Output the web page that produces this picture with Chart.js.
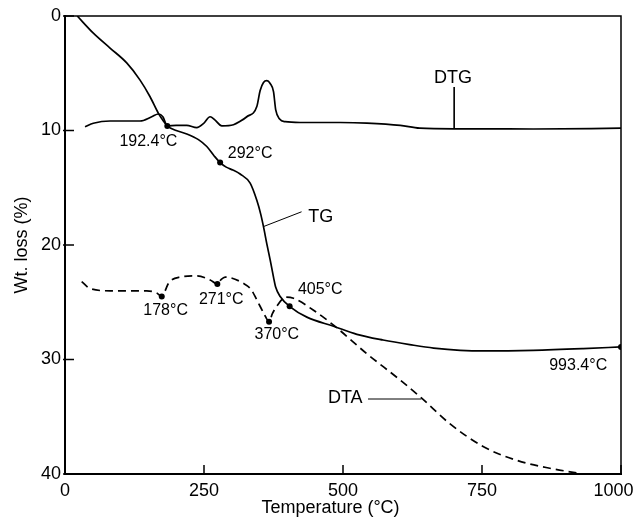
<!DOCTYPE html>
<html>
<head>
<meta charset="utf-8">
<script src="https://cdn.jsdelivr.net/npm/chart.js@4.4.0/dist/chart.umd.min.js"></script>
<style>
  body { margin: 0; background: #fff; }
  canvas { display: block; }
</style>
</head>
<body>
<canvas id="tga" width="637" height="519"></canvas>
<script>
// TG curve - weight loss (%) vs temperature
const tgTemp = [22, 51, 81, 111, 135, 153, 168, 176, 184, 200, 219, 240, 255, 268, 279, 290, 302, 315, 333, 345, 352, 357, 363, 369, 375, 379, 387, 405, 435, 483, 525, 572, 620, 663, 752, 842, 932, 1000];
const tgLoss = [0, 1.5, 2.8, 4.1, 5.6, 7.05, 8.5, 9.1, 9.6, 10.0, 10.3, 10.8, 11.4, 12.2, 12.8, 13.2, 13.45, 13.8, 14.6, 16.1, 17.3, 18.4, 19.9, 21.3, 22.8, 23.7, 24.5, 25.4, 26.3, 27.1, 27.8, 28.3, 28.7, 29.0, 29.25, 29.2, 29.05, 28.9];

// DTG curve
const dtgTemp = [36, 51, 81, 135, 156, 168, 176, 184, 200, 219, 237, 249, 261, 270, 282, 303, 315, 327, 345, 351, 357, 363, 369, 375, 379, 386, 396, 423, 495, 543, 603, 638, 700, 752, 842, 1000];
const dtgVal = [9.67, 9.37, 9.17, 9.17, 8.8, 8.56, 8.8, 9.6, 9.55, 9.55, 9.75, 9.4, 8.8, 9.1, 9.6, 9.5, 9.2, 8.8, 7.9, 6.5, 5.8, 5.65, 5.9, 6.6, 8.2, 9.0, 9.23, 9.3, 9.3, 9.35, 9.55, 9.8, 9.85, 9.85, 9.87, 9.8];

// DTA curve (dashed)
const dtaTemp = [30, 45, 81, 147, 165, 174, 180, 186, 207, 237, 261, 274, 281, 288, 321, 335, 345, 358, 367, 373, 380, 398, 411, 447, 483, 543, 603, 642, 692, 752, 812, 872, 926];
const dtaVal = [23.2, 23.8, 24.0, 24.0, 24.2, 24.5, 24.0, 23.35, 22.8, 22.7, 23.05, 23.4, 23.0, 22.8, 23.35, 23.9, 24.8, 26.0, 26.7, 26.0, 25.4, 24.55, 24.65, 25.7, 27.0, 29.5, 31.8, 33.4, 35.6, 37.6, 38.8, 39.5, 39.95];

// marked points and their labels
const markTemp = [184, 279, 174, 274, 367, 404, 1000];
const markVal = [9.6, 12.8, 24.5, 23.4, 26.7, 25.35, 28.9];
const noteText = ["192.4°C", "292°C", "178°C", "271°C", "370°C", "405°C", "993.4°C", "DTG", "TG", "DTA"];
const noteX = [150, 333, 181, 281, 381, 459, 923, 698, 460, 504];
const noteY = [10.98, 12.05, 25.74, 24.74, 27.86, 23.93, 30.57, 5.41, 17.55, 33.36];
const noteSize = [16, 16, 16, 16, 16, 16, 16, 18, 18, 18];

// leader lines for curve names
const dtgLeadX = [700, 700], dtgLeadY = [6.2, 9.85];
const tgLeadX = [356.5, 425.5], tgLeadY = [18.4, 17.1];
const dtaLeadX = [545, 641], dtaLeadY = [33.45, 33.45];

const xTicks = [0, 250, 500, 750, 1000];
const yTicks = [0, 10, 20, 30, 40];

const FONT = "'Liberation Sans', Arial, Helvetica, sans-serif";

function pts(xs, ys) {
  return xs.map((x, i) => ({ x: x, y: ys[i] }));
}

function curve(data, dash) {
  return {
    data: data,
    borderColor: "#000",
    borderWidth: 1.7,
    borderDash: dash || [],
    pointRadius: 0,
    cubicInterpolationMode: "monotone",
    fill: false,
  };
}

function leader(data) {
  return { data: data, borderColor: "#000", borderWidth: 1, pointRadius: 0, tension: 0, fill: false };
}

// top/right frame, inward tick marks and text notes
const framePlugin = {
  id: "frame",
  afterDatasetsDraw(chart) {
    const ctx = chart.ctx;
    const a = chart.chartArea;
    const xs = chart.scales.x, ys = chart.scales.y;
    ctx.save();
    ctx.strokeStyle = "#000";
    ctx.lineWidth = 1.5;
    ctx.beginPath();
    ctx.moveTo(a.left, a.top);
    ctx.lineTo(a.right, a.top);
    ctx.lineTo(a.right, a.bottom);
    ctx.stroke();

    ctx.beginPath();
    xs.ticks.forEach((t) => {
      const px = xs.getPixelForValue(t.value);
      ctx.moveTo(px, a.bottom);
      ctx.lineTo(px, a.bottom - 9);
    });
    ys.ticks.forEach((t) => {
      const py = ys.getPixelForValue(t.value);
      ctx.moveTo(a.left - 2, py);
      ctx.lineTo(a.left + 9, py);
    });
    ctx.stroke();

    ctx.fillStyle = "#000";
    ctx.textAlign = "center";
    ctx.textBaseline = "middle";
    noteText.forEach((t, i) => {
      ctx.font = noteSize[i] + "px " + FONT;
      ctx.fillText(t, xs.getPixelForValue(noteX[i]), ys.getPixelForValue(noteY[i]));
    });
    ctx.restore();
  },
};

new Chart("tga", {
  type: "line",
  data: {
    datasets: [
      curve(pts(tgTemp, tgLoss)),
      curve(pts(dtgTemp, dtgVal)),
      curve(pts(dtaTemp, dtaVal), [8, 5]),
      leader(pts(dtgLeadX, dtgLeadY)),
      leader(pts(tgLeadX, tgLeadY)),
      leader(pts(dtaLeadX, dtaLeadY)),
      {
        data: pts(markTemp, markVal),
        showLine: false,
        pointRadius: 3,
        pointBackgroundColor: "#000",
        pointBorderColor: "#000",
        pointBorderWidth: 0,
      },
    ],
  },
  options: {
    responsive: false,
    animation: false,
    layout: { padding: { top: 16, right: 16, left: 0, bottom: 0 } },
    plugins: { legend: { display: false }, tooltip: { enabled: false } },
    scales: {
      x: {
        type: "linear",
        min: 0,
        max: 1000,
        afterBuildTicks: (s) => { s.ticks = xTicks.map((v) => ({ value: v })); },
        afterFit: (s) => { s.height = 45; s.paddingLeft = 0; s.paddingRight = 0; },
        grid: { display: false, drawTicks: false },
        border: { display: true, color: "#000", width: 2 },
        ticks: {
          color: "#000",
          font: { family: FONT, size: 18 },
          padding: 6,
          maxRotation: 0,
          callback: (v) => (v === 1000 ? "1000\u00a0\u00a0\u00a0" : String(v)),
        },
        title: {
          display: true,
          text: "Temperature (°C)\u00a0\u00a0\u00a0\u00a0\u00a0",
          color: "#000",
          font: { family: FONT, size: 18 },
          padding: { top: 0, bottom: 0 },
        },
      },
      y: {
        type: "linear",
        min: 0,
        max: 40,
        reverse: true,
        afterBuildTicks: (s) => { s.ticks = yTicks.map((v) => ({ value: v })); },
        afterFit: (s) => { s.width = 65; s.paddingTop = 0; s.paddingBottom = 0; },
        grid: { display: false, drawTicks: false },
        border: { display: true, color: "#000", width: 2 },
        ticks: { color: "#000", font: { family: FONT, size: 18 }, padding: 4 },
        title: {
          display: true,
          text: "Wt. loss (%)",
          color: "#000",
          font: { family: FONT, size: 18 },
          padding: { top: 11, bottom: 0 },
        },
      },
    },
  },
  plugins: [framePlugin],
});
</script>
</body>
</html>
